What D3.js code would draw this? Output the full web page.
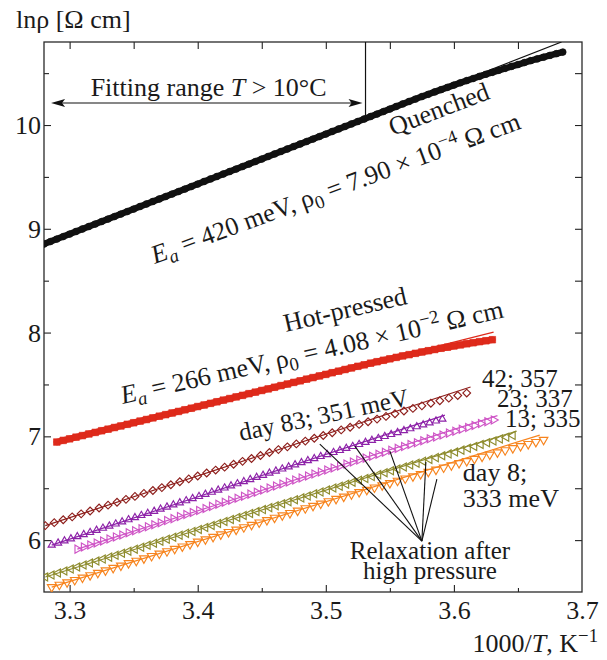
<!DOCTYPE html>
<html lang="en">
<head>
<meta charset="UTF-8">
<title>ln rho vs 1000/T</title>
<script src="https://d3js.org/d3.v7.min.js"></script>
<style>
  body { margin: 0; background: #fff; }
  svg text { font-family: "Liberation Serif", "Times New Roman", serif; fill: #1a1a1a; }
</style>
</head>
<body>
<div id="chart"></div>
<script>
// ---- axes ----
const xMajor = [3.3, 3.4, 3.5, 3.6, 3.7];
const xMinor = [3.35, 3.45, 3.55, 3.65];
const yMajor = [6, 7, 8, 9, 10];
const yMinor = [6.5, 7.5, 8.5, 9.5, 10.5];

// ---- measured points [1000/T, ln rho] ----
const quenched = [
  [3.280,8.853],[3.285,8.877],[3.290,8.901],[3.295,8.925],[3.300,8.949],[3.305,8.974],[3.310,8.998],[3.315,9.022],[3.320,9.046],[3.325,9.070],
  [3.330,9.094],[3.335,9.118],[3.340,9.142],[3.345,9.166],[3.350,9.190],[3.355,9.215],[3.360,9.239],[3.365,9.263],[3.370,9.287],[3.375,9.311],
  [3.380,9.335],[3.385,9.359],[3.390,9.383],[3.395,9.407],[3.400,9.431],[3.405,9.456],[3.410,9.480],[3.415,9.504],[3.420,9.528],[3.425,9.552],
  [3.430,9.576],[3.435,9.600],[3.440,9.624],[3.445,9.648],[3.450,9.672],[3.455,9.697],[3.460,9.721],[3.465,9.745],[3.470,9.769],[3.475,9.793],
  [3.480,9.817],[3.485,9.841],[3.490,9.865],[3.495,9.889],[3.500,9.913],[3.505,9.938],[3.510,9.962],[3.515,9.986],[3.520,10.010],[3.525,10.034],
  [3.530,10.058],[3.535,10.082],[3.540,10.106],[3.545,10.130],[3.550,10.154],[3.555,10.179],[3.560,10.203],[3.565,10.227],[3.570,10.250],[3.575,10.274],
  [3.580,10.296],[3.585,10.319],[3.590,10.341],[3.595,10.363],[3.600,10.385],[3.605,10.407],[3.610,10.428],[3.615,10.448],[3.620,10.469],[3.625,10.489],
  [3.630,10.508],[3.635,10.527],[3.640,10.546],[3.645,10.565],[3.650,10.583],[3.655,10.602],[3.660,10.620],[3.665,10.637],[3.670,10.654],[3.675,10.671],
  [3.680,10.687],[3.685,10.703]
];
const hotPressed = [
  [3.290,6.945],[3.295,6.961],[3.300,6.976],[3.305,6.992],[3.310,7.007],[3.315,7.023],[3.320,7.038],[3.325,7.054],[3.330,7.069],[3.335,7.085],
  [3.340,7.100],[3.345,7.116],[3.350,7.131],[3.355,7.147],[3.360,7.162],[3.365,7.178],[3.370,7.194],[3.375,7.209],[3.380,7.225],[3.385,7.240],
  [3.390,7.256],[3.395,7.271],[3.400,7.287],[3.405,7.302],[3.410,7.318],[3.415,7.333],[3.420,7.349],[3.425,7.364],[3.430,7.380],[3.435,7.395],
  [3.440,7.411],[3.445,7.426],[3.450,7.442],[3.455,7.457],[3.460,7.473],[3.465,7.489],[3.470,7.504],[3.475,7.520],[3.480,7.535],[3.485,7.551],
  [3.490,7.566],[3.495,7.582],[3.500,7.597],[3.505,7.613],[3.510,7.628],[3.515,7.644],[3.520,7.659],[3.525,7.675],[3.530,7.689],[3.535,7.705],
  [3.540,7.719],[3.545,7.733],[3.550,7.747],[3.555,7.761],[3.560,7.775],[3.565,7.787],[3.570,7.800],[3.575,7.813],[3.580,7.825],[3.585,7.837],
  [3.590,7.849],[3.595,7.859],[3.600,7.871],[3.605,7.881],[3.610,7.892],[3.615,7.902],[3.620,7.912],[3.625,7.921],[3.630,7.931]
];
// relaxation after high pressure, top to bottom
const relaxBrown = [
  [3.281,6.140],[3.288,6.168],[3.295,6.196],[3.302,6.224],[3.309,6.253],[3.316,6.281],[3.323,6.309],[3.330,6.337],[3.337,6.365],[3.344,6.393],
  [3.351,6.421],[3.358,6.450],[3.365,6.478],[3.372,6.506],[3.379,6.534],[3.386,6.562],[3.393,6.590],[3.400,6.618],[3.407,6.647],[3.414,6.675],
  [3.421,6.703],[3.428,6.731],[3.435,6.759],[3.442,6.787],[3.449,6.815],[3.456,6.844],[3.463,6.872],[3.470,6.899],[3.477,6.927],[3.484,6.954],
  [3.491,6.981],[3.498,7.008],[3.505,7.035],[3.512,7.062],[3.519,7.088],[3.526,7.115],[3.533,7.141],[3.540,7.166],[3.547,7.192],[3.554,7.218],
  [3.561,7.244],[3.568,7.269],[3.575,7.294],[3.582,7.319],[3.589,7.343],[3.596,7.368],[3.603,7.393],[3.610,7.417]
];
const relaxPurple = [
  [3.286,5.952],[3.291,5.972],[3.296,5.993],[3.301,6.013],[3.306,6.034],[3.311,6.054],[3.316,6.074],[3.321,6.095],[3.326,6.115],[3.331,6.136],
  [3.336,6.156],[3.341,6.176],[3.346,6.197],[3.351,6.217],[3.356,6.238],[3.361,6.258],[3.366,6.278],[3.371,6.299],[3.376,6.319],[3.381,6.340],
  [3.386,6.360],[3.391,6.380],[3.396,6.401],[3.401,6.421],[3.406,6.442],[3.411,6.462],[3.416,6.482],[3.421,6.503],[3.426,6.523],[3.431,6.544],
  [3.436,6.564],[3.441,6.584],[3.446,6.605],[3.451,6.625],[3.456,6.646],[3.461,6.666],[3.466,6.686],[3.471,6.706],[3.476,6.726],[3.481,6.747],
  [3.486,6.766],[3.491,6.786],[3.496,6.806],[3.501,6.825],[3.506,6.845],[3.511,6.864],[3.516,6.884],[3.521,6.903],[3.526,6.922],[3.531,6.942],
  [3.536,6.961],[3.541,6.980],[3.546,6.999],[3.551,7.018],[3.556,7.037],[3.561,7.055],[3.566,7.074],[3.571,7.093],[3.576,7.111],[3.581,7.130],
  [3.586,7.148],[3.591,7.166]
];
const relaxMagenta = [
  [3.306,5.913],[3.311,5.933],[3.316,5.952],[3.321,5.972],[3.326,5.991],[3.331,6.011],[3.336,6.031],[3.341,6.050],[3.346,6.070],[3.351,6.090],
  [3.356,6.109],[3.361,6.129],[3.366,6.148],[3.371,6.168],[3.376,6.188],[3.381,6.207],[3.386,6.227],[3.391,6.246],[3.396,6.266],[3.401,6.286],
  [3.406,6.305],[3.411,6.325],[3.416,6.345],[3.421,6.364],[3.426,6.384],[3.431,6.403],[3.436,6.423],[3.441,6.443],[3.446,6.462],[3.451,6.482],
  [3.456,6.501],[3.461,6.521],[3.466,6.541],[3.471,6.560],[3.476,6.579],[3.481,6.598],[3.486,6.618],[3.491,6.637],[3.496,6.656],[3.501,6.676],
  [3.506,6.695],[3.511,6.714],[3.516,6.733],[3.521,6.752],[3.526,6.771],[3.531,6.790],[3.536,6.808],[3.541,6.827],[3.546,6.846],[3.551,6.865],
  [3.556,6.884],[3.561,6.902],[3.566,6.921],[3.571,6.939],[3.576,6.958],[3.581,6.976],[3.586,6.994],[3.591,7.013],[3.596,7.031],[3.601,7.050],
  [3.606,7.068],[3.611,7.086],[3.616,7.104],[3.621,7.123],[3.626,7.140],[3.631,7.158]
];
const relaxOlive = [
  [3.281,5.645],[3.286,5.664],[3.291,5.683],[3.296,5.702],[3.301,5.721],[3.306,5.740],[3.311,5.760],[3.316,5.779],[3.321,5.798],[3.326,5.817],
  [3.331,5.836],[3.336,5.855],[3.341,5.874],[3.346,5.893],[3.351,5.912],[3.356,5.931],[3.361,5.950],[3.366,5.969],[3.371,5.989],[3.376,6.008],
  [3.381,6.027],[3.386,6.046],[3.391,6.065],[3.396,6.084],[3.401,6.103],[3.406,6.122],[3.411,6.141],[3.416,6.160],[3.421,6.179],[3.426,6.198],
  [3.431,6.218],[3.436,6.237],[3.441,6.256],[3.446,6.275],[3.451,6.294],[3.456,6.313],[3.461,6.332],[3.466,6.351],[3.471,6.370],[3.476,6.389],
  [3.481,6.407],[3.486,6.426],[3.491,6.446],[3.496,6.464],[3.501,6.483],[3.506,6.502],[3.511,6.520],[3.516,6.539],[3.521,6.557],[3.526,6.576],
  [3.531,6.594],[3.536,6.612],[3.541,6.631],[3.546,6.650],[3.551,6.668],[3.556,6.686],[3.561,6.705],[3.566,6.723],[3.571,6.741],[3.576,6.759],
  [3.581,6.777],[3.586,6.795],[3.591,6.813],[3.596,6.831],[3.601,6.849],[3.606,6.867],[3.611,6.885],[3.616,6.903],[3.621,6.921],[3.626,6.938],
  [3.631,6.956],[3.636,6.974],[3.641,6.991],[3.646,7.009]
];
const relaxOrange = [
  [3.286,5.547],[3.292,5.570],[3.298,5.593],[3.304,5.616],[3.310,5.639],[3.316,5.662],[3.322,5.685],[3.328,5.708],[3.334,5.732],[3.340,5.755],
  [3.346,5.778],[3.352,5.801],[3.358,5.824],[3.364,5.847],[3.370,5.870],[3.376,5.893],[3.382,5.916],[3.388,5.939],[3.394,5.962],[3.400,5.985],
  [3.406,6.008],[3.412,6.031],[3.418,6.055],[3.424,6.078],[3.430,6.101],[3.436,6.124],[3.442,6.147],[3.448,6.170],[3.454,6.193],[3.460,6.216],
  [3.466,6.239],[3.472,6.261],[3.478,6.284],[3.484,6.307],[3.490,6.330],[3.496,6.352],[3.502,6.375],[3.508,6.397],[3.514,6.419],[3.520,6.441],
  [3.526,6.463],[3.532,6.485],[3.538,6.507],[3.544,6.528],[3.550,6.550],[3.556,6.572],[3.562,6.594],[3.568,6.615],[3.574,6.636],[3.580,6.658],
  [3.586,6.679],[3.592,6.700],[3.598,6.721],[3.604,6.742],[3.610,6.762],[3.616,6.783],[3.622,6.804],[3.628,6.824],[3.634,6.845],[3.640,6.866],
  [3.646,6.886],[3.652,6.906],[3.658,6.926],[3.664,6.946],[3.670,6.966]
];

// Arrhenius fit lines, [start, end]
const quenchedFit = [[3.280, 8.853], [3.684, 10.80]];
const hotPressedFit = [[3.290, 6.945], [3.631, 8.005]];
const brownFit = [[3.281, 6.140], [3.613, 7.475]];
const purpleFit = [[3.286, 5.952], [3.593, 7.205]];
const magentaFit = [[3.306, 5.913], [3.634, 7.200]];
const oliveFit = [[3.281, 5.645], [3.649, 7.050]];
const orangeFit = [[3.286, 5.547], [3.667, 7.012]];

// fitting range T > 10 C  (1000/283.15)
const fitLimit = 3.531;

// leader lines "Relaxation after high pressure"
const leaderHub = [3.575, 5.99];
const leaderEnds = [[3.4953, 6.925], [3.5227, 6.906], [3.550, 6.858], [3.5781, 6.752], [3.5867, 6.588]];

const width = 607, height = 660;
const x = d3.scaleLinear().domain([3.28, 3.7]).range([44, 582]);
const y = d3.scaleLinear().domain([5.5, 10.8]).range([592, 42]);

const svg = d3.select("#chart").append("svg")
    .attr("width", width)
    .attr("height", height);

svg.append("clipPath").attr("id", "plotClip")
    .append("rect")
    .attr("x", x(3.28)).attr("y", y(10.8))
    .attr("width", x(3.7) - x(3.28)).attr("height", y(5.5) - y(10.8));

// axes, ticks pointing inward on all four sides
function tickAxis(axis, scale, values, size, pos, fmt) {
    const a = axis(scale).tickValues(values).tickSize(-size).tickSizeOuter(0)
        .tickFormat(fmt || "");
    const g = svg.append("g").attr("transform", pos).call(a);
    g.select(".domain").remove();
    g.selectAll(".tick line").attr("stroke", "#222").attr("stroke-width", 1.1);
    g.selectAll("text").attr("font-size", 26).attr("font-family", "Liberation Serif").attr("fill", "#1a1a1a");
    return g;
}
const bottom = tickAxis(d3.axisBottom, x, xMajor, 7, `translate(0,${y(5.5)})`, d3.format(".1f"));
bottom.selectAll("text").attr("y", 0).attr("dy", 27);
bottom.selectAll(".tick").filter(d => d === 3.7).select("line").remove();
tickAxis(d3.axisBottom, x, xMinor, 4, `translate(0,${y(5.5)})`);
tickAxis(d3.axisTop, x, xMajor.slice(0, 4), 7, `translate(0,${y(10.8)})`);
tickAxis(d3.axisTop, x, xMinor, 7, `translate(0,${y(10.8)})`);

const left = tickAxis(d3.axisLeft, y, yMajor, 7, `translate(${x(3.28)},0)`, d3.format("d"));
left.selectAll("text").attr("x", -3).attr("dy", 8.5);
tickAxis(d3.axisLeft, y, yMinor, 5, `translate(${x(3.28)},0)`);
tickAxis(d3.axisRight, y, yMajor, 7, `translate(${x(3.7)},0)`);
tickAxis(d3.axisRight, y, yMinor, 7, `translate(${x(3.7)},0)`);

// frame
svg.append("rect")
    .attr("x", x(3.28)).attr("y", y(10.8))
    .attr("width", x(3.7) - x(3.28)).attr("height", y(5.5) - y(10.8))
    .attr("fill", "none").attr("stroke", "#2a2a2a").attr("stroke-width", 1.3);

// series table
const series = [
    { pts: quenched, fit: quenchedFit, color: "#111111", shape: d3.symbolCircle, size: 36, rot: 0, filled: true, band: 6.5 },
    { pts: hotPressed, fit: hotPressedFit, color: "#de2a1b", shape: d3.symbolSquare, size: 44, rot: 0, filled: true, band: 6.5 },
    { pts: relaxBrown, fit: brownFit, color: "#8e1f1c", shape: d3.symbolSquare, size: 30, rot: 45, filled: false },
    { pts: relaxPurple, fit: purpleFit, color: "#8d22a8", shape: d3.symbolTriangle, size: 22, rot: 0, filled: false },
    { pts: relaxMagenta, fit: magentaFit, color: "#cf55c6", shape: d3.symbolTriangle, size: 28, rot: 90, filled: false },
    { pts: relaxOlive, fit: oliveFit, color: "#8e8c2e", shape: d3.symbolTriangle, size: 28, rot: -90, filled: false },
    { pts: relaxOrange, fit: orangeFit, color: "#f7841e", shape: d3.symbolTriangle, size: 32, rot: 180, filled: false }
];

const plot = svg.append("g").attr("clip-path", "url(#plotClip)");
const line = d3.line().x(d => x(d[0])).y(d => y(d[1]));

series.forEach(s => {
    if (s.band) {
        plot.append("path").datum(s.pts)
            .attr("d", line).attr("fill", "none")
            .attr("stroke", s.color).attr("stroke-width", s.band)
            .attr("stroke-linecap", "round");
    }
    plot.append("g").selectAll("path")
        .data(s.pts)
        .join("path")
        .attr("transform", d => `translate(${x(d[0])},${y(d[1])}) rotate(${s.rot})`)
        .attr("d", d3.symbol().type(s.shape).size(s.size))
        .attr("fill", s.filled ? s.color : "none")
        .attr("stroke", s.color)
        .attr("stroke-width", s.filled ? 0.6 : 1.15);
    plot.append("path").datum(s.fit)
        .attr("d", line).attr("fill", "none")
        .attr("stroke", s.color).attr("stroke-width", 1.2);
});

// fitting range marker
svg.append("line")
    .attr("x1", x(fitLimit)).attr("x2", x(fitLimit))
    .attr("y1", y(10.8)).attr("y2", y(10.087))
    .attr("stroke", "#111").attr("stroke-width", 1.2);
const ay = y(10.212), ax0 = x(3.2855), ax1 = x(fitLimit) - 3;
svg.append("line").attr("x1", ax0 + 6).attr("x2", ax1 - 6).attr("y1", ay).attr("y2", ay)
    .attr("stroke", "#111").attr("stroke-width", 1.2);
svg.append("path")
    .attr("d", `M${ax0},${ay} l14,-4 l-3,4 l3,4 Z M${ax1},${ay} l-14,-4 l3,4 l-3,4 Z`)
    .attr("fill", "#111");

// leader lines
svg.append("g").selectAll("line")
    .data(leaderEnds)
    .join("line")
    .attr("x1", x(leaderHub[0])).attr("y1", y(leaderHub[1]))
    .attr("x2", d => x(d[0])).attr("y2", d => y(d[1]))
    .attr("stroke", "#111").attr("stroke-width", 1.1);

// text with sub/superscripts
function richText(parent, segs, fs, anchor) {
    const t = parent.append("text").attr("font-size", fs).attr("text-anchor", anchor || "start");
    let shift = 0;
    segs.forEach(s => {
        const target = s.sub ? 0.2 * fs : s.sup ? -0.38 * fs : 0;
        const sp = t.append("tspan").text(s.t).attr("dy", target - shift);
        shift = target;
        if (s.sub || s.sup) sp.attr("font-size", fs * 0.72);
        if (s.it) sp.attr("font-style", "italic");
    });
    return t;
}

const notes = [
    { at: [3.3164, 10.28], rot: 0, fs: 26, segs: [{ t: "Fitting range " }, { t: "T", it: true }, { t: " > 10°C" }] },
    { at: [3.5523, 9.894], rot: -21, fs: 26, segs: [{ t: "Quenched" }] },
    { at: [3.3664, 8.660], rot: -20.3, fs: 26, segs: [{ t: "E", it: true }, { t: "a", it: true, sub: true }, { t: " = 420 meV, ρ" }, { t: "0", sub: true }, { t: " = 7.90 × 10" }, { t: "−4", sup: true }, { t: " Ω cm" }] },
    { at: [3.4688, 8.005], rot: -13, fs: 26, segs: [{ t: "Hot-pressed" }] },
    { at: [3.3414, 7.311], rot: -12.8, fs: 26, segs: [{ t: "E", it: true }, { t: "a", it: true, sub: true }, { t: " = 266 meV, ρ" }, { t: "0", sub: true }, { t: " = 4.08 × 10" }, { t: "−2", sup: true }, { t: " Ω cm" }] },
    { at: [3.4336, 6.954], rot: -12, fs: 25, segs: [{ t: "day 83; 351 meV" }] },
    { at: [3.6219, 7.475], rot: 0, fs: 25, segs: [{ t: "42; 357" }] },
    { at: [3.6336, 7.282], rot: 0, fs: 25, segs: [{ t: "23; 337" }] },
    { at: [3.6398, 7.089], rot: 0, fs: 25, segs: [{ t: "13; 335" }] },
    { at: [3.607, 6.569], rot: 0, fs: 26, segs: [{ t: "day 8;" }] },
    { at: [3.607, 6.318], rot: 0, fs: 26, segs: [{ t: "333 meV" }] }
];
notes.forEach(n => {
    richText(svg, n.segs, n.fs)
        .attr("transform", `translate(${x(n.at[0])},${y(n.at[1])}) rotate(${n.rot})`);
});
richText(svg, [{ t: "Relaxation after" }], 25, "middle")
    .attr("transform", `translate(${x(3.5813)},${y(5.817)})`);
richText(svg, [{ t: "high pressure" }], 25, "middle")
    .attr("transform", `translate(${x(3.5813)},${y(5.63)})`);

// axis titles
richText(svg, [{ t: "lnρ [Ω cm]" }], 26).attr("transform", "translate(16,28)");
richText(svg, [{ t: "1000/" }, { t: "T", it: true }, { t: ", K" }, { t: "−1", sup: true }], 26, "end")
    .attr("transform", "translate(598,652)");
</script>
</body>
</html>
